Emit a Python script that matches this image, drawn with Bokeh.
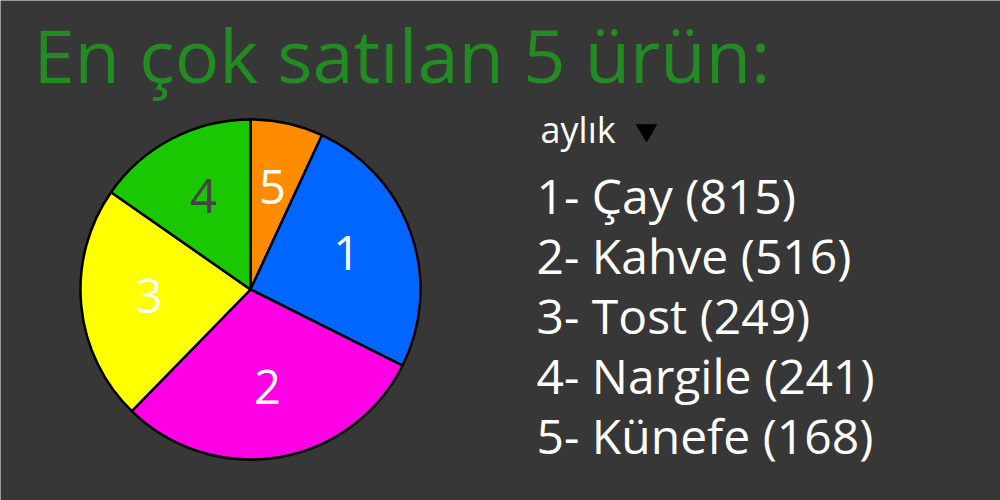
import math
from bokeh.plotting import figure
from bokeh.models import ColumnDataSource, Range1d
from bokeh.core.properties import value
from bokeh.embed import file_html
from bokeh.resources import INLINE

# ---- data ----
title_text = "En çok satılan 5 ürün:"
period_label = "aylık"
ranks = ["1", "2", "3", "4", "5"]
products = ["Çay", "Kahve", "Tost", "Nargile", "Künefe"]
counts = [815, 516, 249, 241, 168]
# pie shares as drawn (percent), in drawing order
pie_order = ["5", "1", "2", "3", "4"]
pie_shares = [6.9, 25.5, 29.9, 22.4, 15.3]
pie_colors = ["#FF8C00", "#0066FF", "#FF00E6", "#FFFF00", "#19C800"]
pie_label_colors = ["#FFFFFF", "#FFFFFF", "#FFFFFF", "#FFFFFF", "#444444"]

W, H = 1000, 500
BG = "#373737"
FONT = "Open Sans"

p = figure(width=W, height=H, output_backend="svg", toolbar_location=None,
           x_range=Range1d(0, W), y_range=Range1d(0, H), min_border=0,
           background_fill_color=BG, border_fill_color=BG)
p.axis.visible = False
p.grid.visible = False
p.outline_line_color = None

# pie
cx, cy, R = 250, 500 - 289, 170
total = sum(pie_shares)
starts, ends, lx, ly = [], [], [], []
acc = 0.0
for s in pie_shares:
    t1 = acc / total * 2 * math.pi
    acc += s
    t2 = acc / total * 2 * math.pi
    starts.append(math.pi / 2 - t2)
    ends.append(math.pi / 2 - t1)
    tm = (t1 + t2) / 2
    lx.append(cx + 0.6 * R * math.sin(tm))
    ly.append(cy + 0.6 * R * math.cos(tm) + 3)

src = ColumnDataSource(dict(start=starts, end=ends, color=pie_colors,
                            lx=lx, ly=ly, lab=pie_order, lc=pie_label_colors))
p.wedge(x=cx, y=cy, radius=R, start_angle="start", end_angle="end",
        fill_color="color", line_color="black", line_width=2.5, source=src)
p.text(x="lx", y="ly", text="lab", text_color="lc", text_font=value(FONT),
       text_font_size="47px", text_align="center", text_baseline="middle", source=src)

# title
p.text(x=[33], y=[500 - 54], text=[title_text], text_color="#228B22",
       text_font=value(FONT), text_font_size="74px", text_baseline="alphabetic")

# period selector
p.text(x=[540], y=[500 - 129], text=[period_label], text_color="white",
       text_font=value(FONT), text_font_size="36px", text_baseline="alphabetic")
p.scatter(x=[646], y=[500 - 130], marker="inverted_triangle", size=20,
          fill_color="black", line_color="black")

# list
labels = [f"{r}- {n} ({c})" for r, n, c in zip(ranks, products, counts)]
ys = [500 - (195 + 60 * i) for i in range(len(labels))]
p.text(x=[536] * len(labels), y=ys, text=labels, text_color="white",
       text_font=value(FONT), text_font_size="48px", text_baseline="alphabetic")

open("out.html", "w").write(file_html(p, INLINE))
